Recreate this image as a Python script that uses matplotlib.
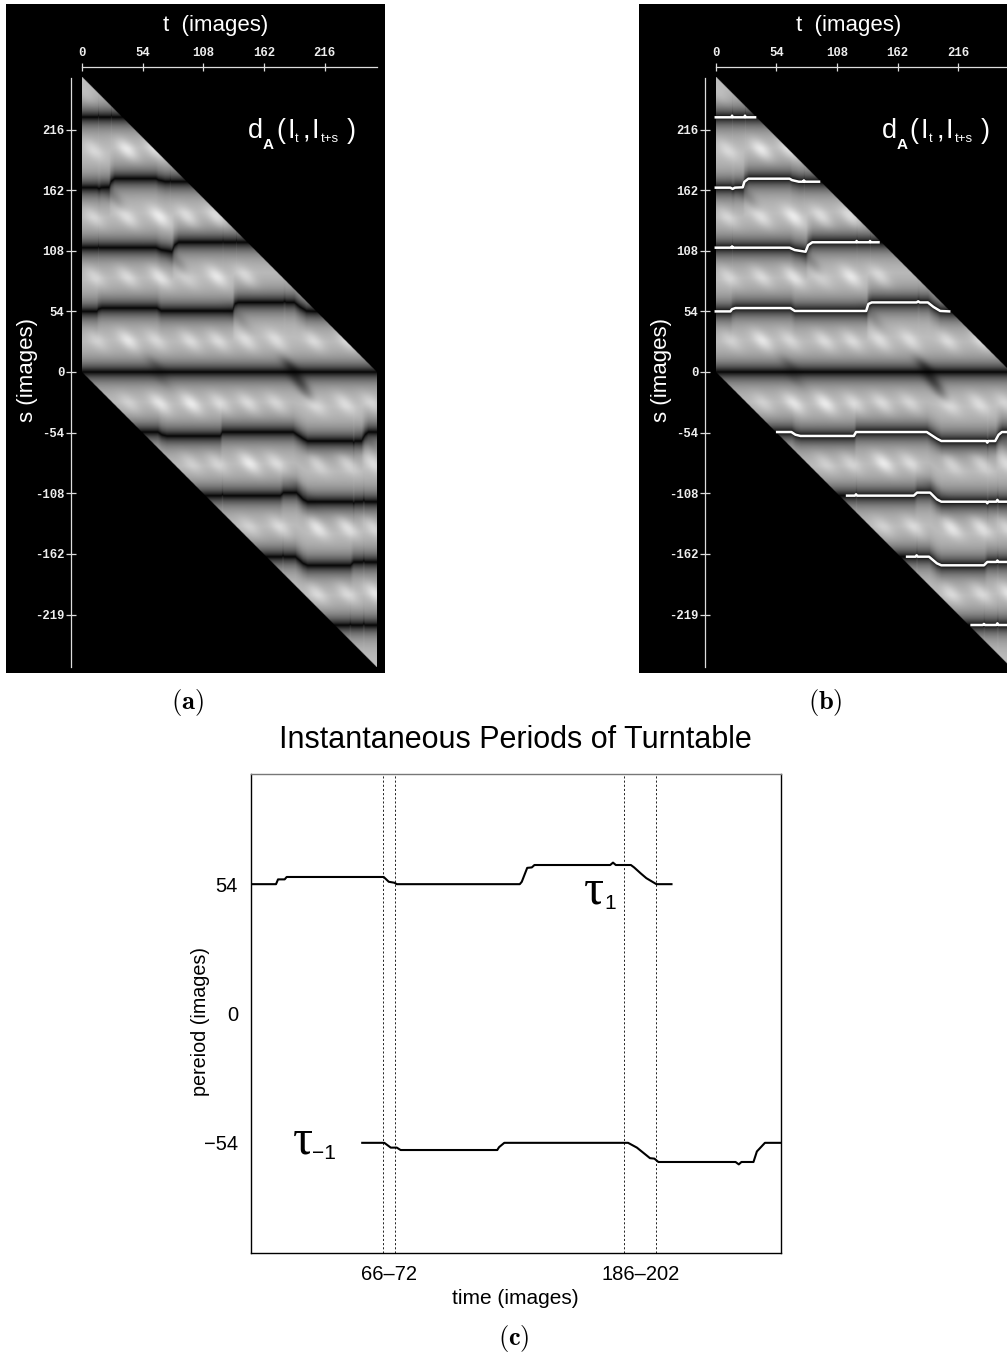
import numpy as np
import matplotlib
matplotlib.use("Agg")
import matplotlib.pyplot as plt

W, H = 1007, 1352
plt.rcParams['font.family'] = ['Liberation Sans', 'DejaVu Sans']
plt.rcParams['mathtext.fontset'] = 'cm'

# ---- ridge (minimum) curves of d_A: t, s
band_p4_t = [0, 14, 14.5, 15, 25.5, 26, 26.5, 35]
band_p4_s = [227, 227, 228.5, 227, 227, 228.5, 227, 227]
band_p3_t = [0, 13, 15, 17, 24, 25.5, 29, 65.7, 68, 74, 78, 78.5, 79, 92]
band_p3_s = [164.3, 164.3, 163.2, 164.3, 164.6, 169.5, 172.3, 172.3, 171, 169.6, 169.6, 170.8, 169.6, 169.6]
band_p2_t = [0, 14, 14.5, 15, 65.7, 70.4, 80, 82.3, 86, 125, 125.5, 126, 137, 137.5, 138, 145]
band_p2_s = [110.8, 110.8, 112, 110.8, 110.8, 108.7, 107.2, 113, 115.6, 115.6, 116.8, 115.6, 115.6, 116.8, 115.6, 115.6]
band_p1_t = [0, 13, 14.5, 17.5, 66.5, 70.4, 134, 136, 139, 179, 180.4, 181.8, 189, 194, 200, 208]
band_p1_s = [54, 54, 56, 57, 57, 54.4, 54.4, 60.6, 62, 62, 63, 62, 62, 58, 54.4, 54]
band_n1_t = [54.7, 67.4, 71, 75.5, 123, 125, 188, 197, 201, 241, 242, 243, 249, 252, 255, 264]
band_n1_s = [-53.5, -53.5, -55.9, -57, -57, -53.5, -53.5, -59.4, -61.5, -61.5, -63, -61.5, -61.5, -56, -53.5, -53.5]
band_n2_t = [117, 124, 125, 126, 176.5, 179.4, 191, 197, 201, 241, 242, 243, 250, 251, 252, 264]
band_n2_s = [-110.2, -110.2, -109, -110.2, -110.2, -107.5, -107.5, -113.5, -115.6, -115.6, -117, -115.6, -115.6, -114, -115.6, -115.6]
band_n3_t = [170.5, 178, 179, 180, 190, 197, 201, 239, 242, 250, 251, 252, 264]
band_n3_s = [-164.6, -164.6, -163.4, -164.6, -164.6, -170.5, -172.3, -172.3, -169.3, -169.3, -168, -169.3, -169.3]
band_n4_t = [228, 238, 239, 240, 250, 251, 252, 264]
band_n4_s = [-225.5, -225.5, -224.5, -225.5, -225.5, -224, -225.5, -225.5]
ridges = [(band_p4_t, band_p4_s), (band_p3_t, band_p3_s), (band_p2_t, band_p2_s),
          (band_p1_t, band_p1_s), (band_n1_t, band_n1_s), (band_n2_t, band_n2_s),
          (band_n3_t, band_n3_s), (band_n4_t, band_n4_s)]

# ---- bright blobs between the ridges
spot_t = [5, 10, 40, 65,
          10, 40, 69, 94, 120,
          11, 40, 69, 93, 120, 146,
          13, 41, 66, 96, 121, 146, 173, 206, 236,
          42, 69, 97, 123, 148, 173, 207, 234, 258,
          97, 120, 149, 173, 209, 236, 259,
          149, 176, 209, 236, 259,
          209, 236, 261]
spot_s = [245, 198, 198, 198,
          138, 138, 138, 138, 138,
          85, 85, 85, 85, 85, 85,
          28, 28, 28, 28, 28, 28, 28, 28, 28,
          -28, -28, -28, -28, -28, -28, -28, -28, -28,
          -81, -81, -81, -81, -81, -81, -81,
          -138, -138, -138, -138, -138,
          -197, -197, -197]
spot_amp = [.3, .6, 1, .8,
            .6, .8, 1, .8, .8,
            .6, .7, .9, .6, .9, .7,
            .5, .9, .6, .7, .7, .7, .7, .7, .7,
            .5, .9, 1, .7, .7, .6, .8, .7, .6,
            .5, .6, 1, .7, .7, .7, .7,
            .5, .7, 1, .9, .7,
            .7, .7, .9]

# ---- dark diagonal shadows
shade_t = [187, 193, 199, 66, 70, 84, 88, 26, 30, 138, 142, 194, 200, 256]
shade_s = [3, -8, -18, 5, -6, 100, 92, 160, 152, 52, 44, -104, -112, -62]
shade_amp = [.45, .4, .25, .2, .12, .15, .1, .15, .1, .1, .08, .1, .08, .15]

# ---- panel axes
t_ticks = [0, 54, 108, 162, 216]
s_ticks = [216, 162, 108, 54, 0, -54, -108, -162, -216.5]
s_tick_labels = ['216', '162', '108', '54', '0', '-54', '-108', '-162', '-219']
t_max = 262.5

# ---- panel (c) curves
tau1_t = [0, 12.7, 13.7, 17, 18, 66.3, 68.8, 71.6, 72.8, 134, 135, 137.7, 140, 141.3,
          179, 180.4, 181.8, 189.3, 190.9, 194.2, 197, 202, 209.5]
tau1_v = [54, 54, 56, 56, 57, 57, 55, 54.6, 54, 54, 55, 60.8, 61, 62,
          62, 63, 62, 62, 61, 58.5, 56.5, 54, 54]
taum1_t = [55.6, 66.6, 69.8, 72.8, 74.7, 122.8, 123.7, 126.3, 187.9, 192.3, 198.8, 201, 203,
           241.4, 243, 244.3, 250.3, 252, 256, 264]
taum1_v = [-54, -54, -56, -56, -57, -57, -55.8, -54, -54, -56, -60.4, -60.6, -62,
           -62, -63, -62, -62, -57.6, -54, -54]
change_points = [66, 72, 186, 202]
c_ticks = [69, 194]
c_tick_labels = ['66\u201372', '186\u2013202']
c_yticks = [-54, 0, 54]
c_yticklabels = ['\u221254', '0', '54']


def build_field():
    t = np.linspace(0, t_max, 526)
    s = np.linspace(262.5, -262.5, 1051)
    T, S = np.meshgrid(t, s)
    d = np.abs(S)
    for rt, rs in ridges:
        d = np.minimum(d, np.abs(S - np.interp(t, rt, rs)[None, :]))
    v = 0.02 + 0.74 * (1 - np.exp(-(d / 9.0) ** 1.0))
    u_plus, u_minus = T + S, T - S
    gain = np.clip(d / 14.0, 0, 1)
    for st, ss, a in zip(spot_t, spot_s, spot_amp):
        g = np.exp(-((u_plus - (st + ss)) ** 2) / (2 * 6.0 ** 2)
                   - ((u_minus - (st - ss)) ** 2) / (2 * 12.0 ** 2))
        v += 0.19 * a * g * gain
    for st, ss, a in zip(shade_t, shade_s, shade_amp):
        g = np.exp(-((u_plus - (st + ss)) ** 2) / (2 * 4.5 ** 2)
                   - ((u_minus - (st - ss)) ** 2) / (2 * 12.0 ** 2))
        v *= 1 - a * g
    v = np.clip(v, 0, 1)
    return np.ma.masked_where((T + S > t_max) | (T + S < 0), v)


fig = plt.figure(figsize=(W / 100, H / 100), dpi=100, facecolor='white')
field = build_field()


def px_text(x, y, s, **kw):
    return fig.text(x / W, 1 - y / H, s, **kw)


def panel(xo, rect_left, rect_right, tracks):
    rt, rb = 4, 673
    ax = fig.add_axes([rect_left / W, 1 - rb / H, (rect_right - rect_left) / W, (rb - rt) / H])
    ax.set_facecolor('black')
    k = 1.122
    x0, y0 = 82.3 + xo, 372.0
    xlim = ((rect_left - x0) / k, (rect_right - x0) / k)
    ylim = ((y0 - rb) / k, (y0 - rt) / k)
    cmap = plt.get_cmap('gray').copy()
    cmap.set_bad('black')
    ax.imshow(field, extent=[0, t_max, -262.5, 262.5], cmap=cmap, vmin=0, vmax=1,
              aspect='auto', interpolation='bilinear', zorder=1)
    if tracks:
        for r_t, r_s in ridges:
            ax.plot(r_t, r_s, color='white', lw=1.8, solid_joinstyle='round', zorder=3)
    ax.set_xlim(*xlim)
    ax.set_ylim(*ylim)
    col = '#dddddd'
    for name in ('right', 'bottom'):
        ax.spines[name].set_visible(False)
    ax.spines['top'].set_position(('data', (y0 - 66.7) / k))
    ax.spines['top'].set_bounds(0, t_max)
    ax.spines['left'].set_position(('data', (71.3 + xo - x0) / k))
    ax.spines['left'].set_bounds((y0 - 667) / k, (y0 - 78) / k)
    for name in ('top', 'left'):
        ax.spines[name].set_color(col)
        ax.spines[name].set_linewidth(0.9)
    ax.xaxis.tick_top()
    ax.set_xticks(t_ticks)
    ax.set_xticklabels([str(v) for v in t_ticks], family='Liberation Mono', fontsize=8.8,
                       color='#eeeeee', fontweight='bold')
    ax.set_yticks(s_ticks)
    ax.set_yticklabels(s_tick_labels, family='Liberation Mono', fontsize=8.8,
                       color='#eeeeee', fontweight='bold')
    ax.tick_params(axis='x', direction='inout', length=5.4, width=0.9, color=col, pad=3.0)
    ax.tick_params(axis='y', direction='inout', length=6.6, width=0.9, color=col, pad=1.5)

    px_text(215.5 + xo, 25, 't  (images)', color='white', fontsize=16, ha='center', va='center')
    px_text(28 + xo, 370, 's (images)', color='white', fontsize=16, ha='center', va='center',
            rotation=90)
    big = dict(color='white', fontsize=19.5, ha='left', va='baseline')
    px_text(248 + xo, 138.5, 'd', **big)
    px_text(263 + xo, 149, 'A', color='white', fontsize=11, fontweight='bold', ha='left', va='baseline')
    px_text(276 + xo, 138.5, '(', **big)
    px_text(287 + xo, 138.5, 'I', **big)
    px_text(295 + xo, 141.5, 't', color='white', fontsize=9, ha='left', va='baseline')
    px_text(303 + xo, 138.5, ',', **big)
    px_text(312 + xo, 138.5, 'I', **big)
    px_text(321 + xo, 141.5, 't+s', color='white', fontsize=9.5, ha='left', va='baseline')
    px_text(347 + xo, 138.5, ')', **big)


panel(0, 6, 385, False)
panel(633.5, 639, 1030, True)

cap = dict(fontsize=19, ha='center', va='center', color='black')
px_text(187, 703, r'$\mathbf{(a)}$', **cap)
px_text(825, 703, r'$\mathbf{(b)}$', **cap)
px_text(514, 1338, r'$\mathbf{(c)}$', **cap)

# ---- panel (c)
ax = fig.add_axes([250.5 / W, 1 - 1253 / H, (781 - 250.5) / W, (1253 - 774) / H])
ax.plot(tau1_t, tau1_v, color='black', lw=1.5, solid_joinstyle='round', zorder=3)
ax.plot(taum1_t, taum1_v, color='black', lw=1.5, solid_joinstyle='round', zorder=3)
for cp in change_points:
    ax.axvline(cp, color='black', lw=0.6, ls=(0, (2.5, 2.5)), zorder=2)
ax.set_xlim(0, 264)
ax.set_ylim(-100, 100)
ax.set_xticks(c_ticks)
ax.set_xticklabels(c_tick_labels, fontsize=14.5)
ax.set_yticks(c_yticks)
ax.set_yticklabels(c_yticklabels, fontsize=14.5)
ax.tick_params(axis='both', which='major', length=0, pad=9)
ax.set_yticks([-54, 54], minor=True)
ax.tick_params(axis='y', which='minor', direction='in', length=4.5, width=0.8, left=True, right=True)
for sp in ax.spines.values():
    sp.set_linewidth(1.0)
ax.spines['top'].set_color('#777777')
px_text(515, 740, 'Instantaneous Periods of Turntable', fontsize=22, ha='center', va='center')
px_text(515, 1298, 'time (images)', fontsize=15, ha='center', va='center')
px_text(200, 1022, 'pereiod (images)', fontsize=14.2, ha='center', va='center', rotation=90)
px_text(584, 904, '\u03c4', fontsize=36, ha='left', va='baseline', family='Liberation Serif')
px_text(604, 909, '1', fontsize=15, ha='left', va='baseline')
px_text(293, 1154, '\u03c4', fontsize=36, ha='left', va='baseline', family='Liberation Serif')
px_text(312, 1159, '\u22121', fontsize=15, ha='left', va='baseline')

fig.savefig('out.png', dpi=100, facecolor='white')
